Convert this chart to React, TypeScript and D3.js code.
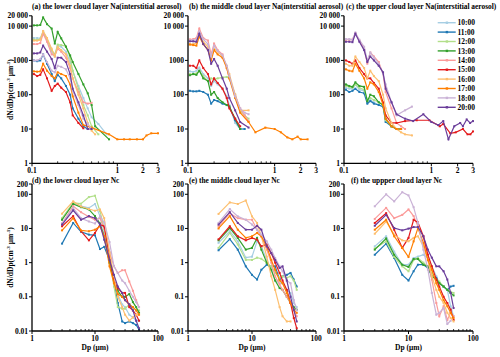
import * as d3 from 'd3';

// hours, one colour per hour (Paired)
const TIMES = ['10:00', '11:00', '12:00', '13:00', '14:00', '15:00', '16:00', '17:00', '18:00', '20:00'];
const COLORS = ['#a6cee3', '#1f78b4', '#b2df8a', '#33a02c', '#fb9a99', '#e31a1c', '#fdbf6f', '#ff7f00', '#cab2d6', '#6a3d9a'];

const NA_Y_TICKS = [1, 10, 100, 1000, 10000, 20000];
const NA_Y_LABELS = ['1', '10', '100', '1000', '10 000', '20 000'];
const NA_X_TICKS = [0.1, 1, 2, 3];
const NA_X_MINOR = [0.2, 0.3, 0.4, 0.5, 0.6, 0.7, 0.8, 0.9];
const NC_Y_TICKS = [0.01, 0.1, 1, 10, 100, 200];
const NC_Y_LABELS = ['0.01', '0.1', '1', '10', '100', '200'];
const NC_X_TICKS = [1, 10, 100];
const NC_X_MINOR = [2, 3, 4, 5, 6, 7, 8, 9, 20, 30, 40, 50, 60, 70, 80, 90];

const NA_TITLES = [
  '(a) the lower cloud layer  Na(interstitial aerosol)',
  '(b) the middle cloud layer  Na(interstitial aerosol)',
  '(c) the upper cloud layer  Na(interstitial aerosol)',
];
const NC_TITLES = [
  '(d) the lower cloud layer  Nc',
  '(e) the middle cloud layer  Nc',
  '(f) the uppper cloud layer  Nc',
];

// interstitial aerosol, [Dp (um), dN/dDp]
const naLower: [number, number][][] = [
  [[0.105, 4500], [0.115, 4500], [0.125, 4400], [0.135, 7000], [0.15, 4000], [0.17, 1800], [0.185, 1300], [0.2, 2700], [0.22, 2500], [0.25, 1800], [0.28, 900], [0.3, 500], [0.35, 180], [0.4, 80], [0.45, 40], [0.5, 22], [0.6, 14], [0.75, 7]],
  [[0.105, 1000], [0.115, 950], [0.125, 1000], [0.135, 1500], [0.15, 800], [0.17, 400], [0.185, 250], [0.2, 380], [0.22, 300], [0.25, 180], [0.28, 100], [0.3, 40], [0.35, 20], [0.4, 12], [0.45, 10]],
  [[0.105, 4000], [0.115, 4000], [0.125, 4100], [0.135, 6500], [0.15, 4200], [0.17, 2000], [0.185, 1500], [0.2, 2900], [0.22, 2800], [0.25, 2600], [0.28, 1200], [0.3, 500], [0.35, 150], [0.4, 50], [0.45, 25], [0.5, 12], [0.6, 7]],
  [[0.105, 10500], [0.115, 10500], [0.125, 10800], [0.135, 17900], [0.15, 11400], [0.17, 8500], [0.185, 3100], [0.2, 6800], [0.22, 4400], [0.25, 2500], [0.28, 1400], [0.3, 900], [0.35, 400], [0.4, 200], [0.45, 110], [0.5, 50], [0.55, 12], [0.8, 5]],
  [[0.105, 3000], [0.115, 3000], [0.125, 3200], [0.135, 6000], [0.15, 3500], [0.17, 1500], [0.185, 1400], [0.2, 2200], [0.22, 1800], [0.25, 1200], [0.28, 600], [0.3, 300], [0.35, 120], [0.4, 60], [0.45, 55], [0.5, 58]],
  [[0.105, 400], [0.115, 350], [0.125, 380], [0.135, 550], [0.15, 300], [0.17, 130], [0.185, 180], [0.2, 210], [0.22, 160], [0.25, 120], [0.28, 60], [0.3, 25], [0.35, 15], [0.4, 10.5]],
  [[0.105, 3800], [0.115, 3800], [0.125, 4000], [0.135, 7200], [0.15, 4500], [0.17, 2200], [0.185, 1300], [0.2, 2500], [0.22, 2000], [0.25, 1500], [0.28, 700], [0.3, 300], [0.35, 100], [0.4, 40], [0.45, 15], [0.5, 9], [0.55, 7]],
  [[0.105, 480], [0.115, 470], [0.125, 480], [0.135, 800], [0.15, 500], [0.17, 350], [0.185, 300], [0.2, 450], [0.22, 400], [0.25, 350], [0.28, 200], [0.3, 90], [0.35, 30], [0.4, 13], [0.5, 11], [0.8, 7], [1, 5], [1.2, 5], [1.4, 5], [1.7, 5], [2, 5], [2.2, 6.5], [2.5, 7.5], [3, 7.5]],
  [[0.105, 1000], [0.115, 1000], [0.125, 1100], [0.135, 1500], [0.15, 900], [0.17, 500], [0.185, 450], [0.2, 700], [0.22, 650], [0.25, 550], [0.28, 300], [0.3, 130], [0.35, 50], [0.4, 20], [0.45, 14], [0.5, 10]],
  [[0.105, 1600], [0.115, 1600], [0.125, 1700], [0.135, 2700], [0.15, 1800], [0.17, 1100], [0.185, 600], [0.2, 1200], [0.22, 1200], [0.25, 900], [0.28, 400], [0.3, 150], [0.35, 60], [0.4, 25], [0.45, 10], [0.5, 10]],
];

const naMiddle: [number, number][][] = [
  [[0.105, 480], [0.115, 460], [0.125, 500], [0.135, 620], [0.15, 400], [0.17, 300], [0.185, 180], [0.2, 250], [0.22, 200], [0.25, 150], [0.28, 90], [0.3, 50], [0.35, 15], [0.4, 10], [0.45, 10]],
  [[0.105, 130], [0.115, 125], [0.125, 125], [0.135, 130], [0.15, 120], [0.17, 100], [0.185, 55], [0.2, 70], [0.22, 65], [0.25, 55], [0.28, 50], [0.3, 45], [0.35, 18], [0.4, 10], [0.45, 10]],
  [[0.105, 400], [0.115, 400], [0.125, 420], [0.135, 500], [0.15, 350], [0.17, 250], [0.185, 300], [0.2, 280], [0.22, 300], [0.25, 320], [0.28, 330], [0.3, 300], [0.35, 100], [0.4, 35], [0.45, 25], [0.5, 20]],
  [[0.105, 370], [0.115, 400], [0.125, 380], [0.135, 500], [0.15, 300], [0.17, 250], [0.185, 100], [0.2, 120], [0.22, 80], [0.25, 60], [0.28, 50], [0.3, 45], [0.35, 20], [0.4, 10]],
  [[0.105, 4100], [0.115, 4200], [0.125, 4500], [0.135, 8500], [0.15, 4500], [0.17, 3800], [0.185, 1500], [0.2, 3100], [0.22, 2000], [0.25, 1500], [0.28, 600], [0.3, 300], [0.35, 100], [0.4, 40], [0.45, 25], [0.5, 17]],
  [[0.105, 700], [0.115, 700], [0.125, 600], [0.135, 1000], [0.15, 600], [0.17, 400], [0.185, 200], [0.2, 300], [0.22, 220], [0.25, 150], [0.28, 80], [0.3, 40], [0.35, 20], [0.4, 12]],
  [[0.105, 3000], [0.115, 3000], [0.125, 3200], [0.135, 5500], [0.15, 3500], [0.17, 2500], [0.185, 1200], [0.2, 2200], [0.22, 1800], [0.25, 1300], [0.28, 700], [0.3, 400], [0.35, 100], [0.4, 35], [0.5, 35]],
  [[0.105, 2900], [0.115, 2800], [0.125, 2700], [0.135, 5000], [0.15, 3000], [0.17, 2000], [0.185, 1000], [0.2, 2000], [0.22, 1500], [0.25, 1200], [0.28, 600], [0.3, 300], [0.35, 80], [0.4, 30], [0.5, 16], [0.6, 8], [0.78, 11], [1, 10], [1.18, 8], [1.4, 5.7], [1.6, 5], [1.84, 6], [2, 5], [2.4, 5]],
  [[0.105, 3800], [0.115, 3900], [0.125, 4000], [0.135, 7000], [0.15, 4200], [0.17, 3000], [0.185, 1300], [0.2, 2700], [0.22, 1900], [0.25, 1400], [0.28, 700], [0.3, 350], [0.35, 90], [0.4, 40], [0.45, 30], [0.5, 27]],
  [[0.105, 3600], [0.115, 3600], [0.125, 3500], [0.135, 6000], [0.15, 3000], [0.17, 2000], [0.185, 800], [0.2, 1100], [0.22, 700], [0.25, 300], [0.28, 150], [0.3, 80], [0.35, 35], [0.4, 16], [0.5, 11]],
];

const naUpper: [number, number][][] = [
  [[0.105, 160], [0.115, 150], [0.125, 150], [0.135, 200], [0.15, 140], [0.17, 130], [0.185, 60], [0.2, 70], [0.22, 60], [0.25, 50], [0.28, 45], [0.3, 17], [0.35, 12], [0.4, 10]],
  [[0.105, 140], [0.115, 120], [0.125, 130], [0.135, 150], [0.15, 120], [0.17, 110], [0.185, 55], [0.2, 65], [0.22, 55], [0.25, 50], [0.28, 45], [0.3, 16], [0.35, 12], [0.4, 10], [0.45, 10]],
  [[0.105, 180], [0.115, 170], [0.125, 160], [0.135, 200], [0.15, 160], [0.17, 140], [0.185, 70], [0.2, 80], [0.22, 70], [0.25, 60], [0.28, 50], [0.3, 18], [0.35, 12], [0.4, 10], [0.45, 10]],
  [[0.105, 200], [0.115, 180], [0.125, 170], [0.135, 230], [0.15, 180], [0.17, 170], [0.185, 65], [0.2, 100], [0.22, 90], [0.25, 60], [0.28, 50], [0.3, 20], [0.35, 12], [0.4, 10], [0.45, 10]],
  [[0.105, 4000], [0.115, 4000], [0.125, 4100], [0.135, 6200], [0.15, 3800], [0.17, 2200], [0.185, 800], [0.2, 1700], [0.22, 1300], [0.25, 900], [0.28, 400], [0.3, 120], [0.35, 40], [0.4, 15], [0.45, 12], [0.5, 10]],
  [[0.105, 1000], [0.115, 900], [0.125, 800], [0.135, 1000], [0.15, 600], [0.17, 400], [0.185, 300], [0.2, 300], [0.22, 220], [0.25, 150], [0.28, 60], [0.3, 25], [0.35, 15], [0.4, 15], [0.5, 17], [0.68, 18], [0.95, 18], [1.25, 12], [1.37, 14], [1.65, 7.5], [1.9, 8], [2.3, 10], [2.6, 7], [2.8, 7], [3, 8.5]],
  [[0.105, 800], [0.115, 700], [0.125, 700], [0.135, 1300], [0.15, 900], [0.17, 600], [0.185, 300], [0.2, 500], [0.22, 350], [0.25, 250], [0.28, 100], [0.3, 40], [0.35, 15], [0.4, 10], [0.45, 8], [0.5, 7], [0.6, 6.5]],
  [[0.105, 550], [0.115, 500], [0.125, 480], [0.135, 800], [0.15, 500], [0.17, 300], [0.185, 150], [0.2, 230], [0.22, 200], [0.25, 120], [0.28, 50], [0.3, 20], [0.35, 12], [0.4, 10], [0.45, 10]],
  [[0.105, 4200], [0.115, 4200], [0.125, 4000], [0.135, 6500], [0.15, 4000], [0.17, 2500], [0.185, 1000], [0.2, 1700], [0.22, 1200], [0.25, 800], [0.28, 400], [0.3, 200], [0.35, 60], [0.4, 25], [0.5, 35], [0.6, 45]],
  [[0.105, 3500], [0.115, 3500], [0.125, 3400], [0.135, 6000], [0.15, 3500], [0.17, 2000], [0.185, 900], [0.2, 1300], [0.22, 1000], [0.25, 700], [0.28, 450], [0.3, 150], [0.35, 60], [0.4, 27], [0.5, 20], [0.62, 17], [0.81, 27], [1, 16], [1.2, 13], [1.37, 17], [1.57, 5], [1.83, 12], [2.14, 15], [2.3, 12], [2.54, 19], [2.78, 15], [3, 17]],
];

// cloud droplets on the probe's size bins
const NC_BINS = [3, 4.5, 6, 8, 10, 12, 14, 17, 20, 23, 27, 30, 35, 40, 45, 50];

const ncLower: (number | null)[][] = [
  [18, 58, 45, 40, 52, 23, 8, 2, 0.3, 0.12, 0.06, 0.05, 0.03, 0.025, 0.02, 0.02],
  [3.6, 14.5, 8, 6.6, 6.3, 2.5, 2.9, 1.2, 0.32, 0.066, 0.019, 0.017, 0.019, 0.017, 0.015, 0.011],
  [20, 56, 53, 83, 91, 32, 10, 1.5, 0.2, 0.05, 0.045, 0.045, 0.06, 0.05, 0.04, 0.04],
  [18, 52, 42, 36, 23, 14, 6, 1, 0.3, 0.15, 0.1, 0.1, 0.12, 0.07, 0.05, 0.034],
  [14, 45, 30, 22, 18, 20, 10, 2, 0.8, 0.5, 0.6, 0.6, 0.28, 0.15, 0.08, 0.05],
  [11.6, 23, 8.3, 4.5, 7.4, 13, 11.6, 1.5, 0.3, 0.18, 0.13, 0.13, 0.05, 0.04, 0.03, 0.02],
  [27, 62, 44, 37, 33, 36, 20, 2, 0.4, 0.1, 0.05, 0.03, 0.02, 0.025, 0.03, 0.03],
  [8.8, 20, 8.8, 8.3, 9.2, 11.6, 6, 0.78, 0.25, 0.12, 0.1, 0.08, 0.06, 0.05, 0.04, 0.03],
  [14, 40, 20, 16, 14, 23, 15, 4, 0.78, 0.5, 0.3, 0.25, 0.15, 0.1, 0.07, 0.05],
  [13, 34, 18, 23, 20, 13, 4.7, 1.2, 0.44, 0.2, 0.13, 0.08, 0.06, 0.04, 0.02, 0.012],
];

const ncMiddle: (number | null)[][] = [
  [3.8, 8.3, 4.2, 1.4, 1.5, 4.2, 3, 1.2, 0.62, 0.3, 0.25, 0.25, 0.16, 0.13, 0.066, 0.05],
  [2.3, 4.9, 2.4, 0.78, 0.44, 0.32, 0.62, 0.87, 0.78, 0.78, 0.32, 0.4, 0.44, 0.5, 0.32, 0.2],
  [2.7, 7.4, 3.4, 1.2, 1.2, 1.4, 1.3, 1, 0.78, 0.5, 0.36, 0.4, 0.36, 0.4, 0.3, 0.16],
  [4.5, 10.3, 5.3, 2.4, 2.7, 5.3, 2.4, 1, 0.62, 0.3, 0.18, 0.16, 0.1, 0.066, 0.05, 0.042],
  [11.6, 28, 20, 18, 18, 9.2, 5.9, 2.4, 1, 0.4, 0.23, 0.16, 0.1, 0.066, 0.04, 0.027],
  [4.8, 11.6, 5.9, 4.5, 5.3, 4.7, 3, 3.4, 1.9, 1, 0.5, 0.3, 0.16, 0.066, 0.024, 0.012],
  [26.6, 58, 52, 66, 22.6, 14.5, 5.9, 1.5, 0.4, 0.16, 0.05, 0.027, 0.019, 0.019, null, null],
  [10, 23, 9.2, 5.3, 5.9, 7.4, 5.9, 3, 1.2, 0.62, 0.3, 0.25, 0.13, 0.066, 0.042, 0.034],
  [14.5, 37, 22.6, 18, 13, 9.2, 6.6, 4.2, 2.4, 1.37, 0.78, 0.56, 0.3, 0.25, 0.08, 0.04],
  [13, 30, 14.5, 9.2, 9.2, 12, 9.2, 3, 1.9, 1.2, 0.7, 0.78, 0.3, 0.1, 0.042, 0.019],
];

const ncUpper: (number | null)[][] = [
  [3, 5.9, 2.1, 0.87, 0.87, 1.37, 1.5, 1.7, 1.37, 0.78, 0.4, 0.25, 0.2, 0.16, 0.053, 0.027],
  [1.7, 3.6, 1.37, 0.44, 0.3, 0.56, 0.87, 0.87, 0.7, 0.4, 0.36, 0.25, 0.2, 0.16, 0.2, 0.21],
  [2.6, 4.2, 1.46, 0.78, 0.56, 1.2, 1.37, 1, 0.78, 0.5, 0.32, 0.28, 0.2, 0.16, 0.14, 0.13],
  [2.4, 5.1, 1.7, 0.87, 0.75, 1.28, 1.28, 0.87, 0.78, 0.4, 0.32, 0.25, 0.2, 0.16, 0.13, 0.11],
  [19, 40, 20, 25, 36, 23, 11.6, 5.9, 1.2, 0.32, 0.066, 0.027, 0.053, 0.021, 0.034, 0.027],
  [14.5, 28, 9.2, 2.7, 5.3, 18, 15, 5.9, 1.7, 0.78, 0.32, 0.2, 0.1, 0.066, 0.042, 0.021],
  [7, 16, 6.6, 4.5, 4.2, 5.3, 5.9, 3, 1.2, 0.4, 0.16, 0.1, 0.066, 0.034, 0.024, 0.019],
  [9.2, 18, 5.9, 2.7, 1.46, 4.2, 10.3, 3.8, 1.2, 0.62, 0.25, 0.16, 0.08, 0.053, 0.034, 0.024],
  [44.5, 100, 62, 115, 93, 42, 14.5, 2.4, 0.62, 0.13, 0.03, 0.034, 0.047, 0.016, 0.02, null],
  [12, 25, 10.3, 8.8, 9.9, 11, 11, 5.9, 2.4, 1.4, 0.78, 0.78, 0.56, 0.32, 0.13, 0.047],
];

const W = 500;
const H = 357;
const FONT = '"Liberation Serif", "Times New Roman", serif';
const COLS = [[32, 158], [188, 316], [344, 473]];
const TOP_Y = [163.3, 15.8];
const BOT_Y = [331, 184];

type PanelProps = {
  title: string;
  titleX: number;
  titleY: number;
  col: number[];
  yr: number[];
  xDomain: [number, number];
  yDomain: [number, number];
  xTicks: number[];
  xMinor: number[];
  yTicks: number[];
  yLabels: string[];
  series: [number, number][][];
  yTitle?: boolean;
  xTitle?: boolean;
  legend?: boolean;
};

function Panel(p: PanelProps) {
  const x = d3.scaleLog().domain(p.xDomain).range(p.col);
  const y = d3.scaleLog().domain(p.yDomain).range(p.yr);
  const line = d3.line<[number, number]>().x(d => x(d[0])).y(d => y(d[1]));
  const x0 = p.col[0];
  const y0 = p.yr[0];
  const midY = (p.yr[0] + p.yr[1]) / 2;

  return (
    <g fontFamily={FONT} fontWeight="bold">
      <text x={p.titleX} y={p.titleY} fontSize={7.4}>{p.title}</text>

      {p.series.map((s, i) => (
        <g key={i}>
          <path d={line(s) ?? ''} fill="none" stroke={COLORS[i]} strokeWidth={1.2} />
          {s.map((d, j) => (
            <rect key={j} x={x(d[0]) - 1} y={y(d[1]) - 1} width={2} height={2} fill={COLORS[i]} />
          ))}
        </g>
      ))}

      {/* axes */}
      <line x1={x0} x2={p.col[1]} y1={y0} y2={y0} stroke="#000" strokeWidth={1.3} />
      <line x1={x0} x2={x0} y1={y0} y2={p.yr[1]} stroke="#000" strokeWidth={1.3} />
      {p.xTicks.map(t => (
        <g key={t}>
          <line x1={x(t)} x2={x(t)} y1={y0} y2={y0 + 3} stroke="#000" strokeWidth={1} />
          <text x={x(t)} y={y0 + 9.5} fontSize={7.5} textAnchor="middle">{t}</text>
        </g>
      ))}
      {p.xMinor.map(t => (
        <line key={t} x1={x(t)} x2={x(t)} y1={y0} y2={y0 - 2} stroke="#000" strokeWidth={0.8} />
      ))}
      {p.yTicks.map((t, i) => (
        <g key={t}>
          <line x1={x0 - 3} x2={x0} y1={y(t)} y2={y(t)} stroke="#000" strokeWidth={1} />
          <text x={x0 - 4} y={y(t)} dy="0.35em" fontSize={7.5} textAnchor="end">{p.yLabels[i]}</text>
        </g>
      ))}

      {p.yTitle && (
        <text transform={`translate(13,${midY}) rotate(-90)`} fontSize={7.5} textAnchor="middle">
          dN/dDp(cm<tspan fontSize={5} dy={-3}>-3</tspan>
          <tspan dy={3}> μm</tspan>
          <tspan fontSize={5} dy={-3}>-1</tspan>
          <tspan dy={3}>)</tspan>
        </text>
      )}
      {p.xTitle && (
        <text x={(p.col[0] + p.col[1]) / 2} y={350} fontSize={7.5} textAnchor="middle">Dp (μm)</text>
      )}

      {p.legend && TIMES.map((t, i) => {
        const ly = 22.7 + i * 9.4;
        return (
          <g key={t}>
            <line x1={437.7} x2={455.7} y1={ly} y2={ly} stroke={COLORS[i]} strokeWidth={1.4} />
            <rect x={445.7} y={ly - 1.2} width={2.4} height={2.4} fill={COLORS[i]} />
            <text x={457.5} y={ly} dy="0.35em" fontSize={7.5}>{t}</text>
          </g>
        );
      })}
    </g>
  );
}

const toPairs = (rows: (number | null)[][]): [number, number][][] =>
  rows.map(r => NC_BINS.map((b, i) => [b, r[i]] as [number, number | null])
    .filter(d => d[1] != null) as [number, number][]);

const NA_TITLE_X = [32, 189, 346];
const NC_TITLE_X = [32, 189, 351];

export default function App() {
  const naSets = [naLower, naMiddle, naUpper];
  const ncSets = [ncLower, ncMiddle, ncUpper].map(toPairs);
  return (
    <svg width={W} height={H} style={{ position: 'absolute', left: 0, top: 0, background: '#fff' }}>
      {naSets.map((s, i) => (
        <Panel key={'na' + i} title={NA_TITLES[i]} titleX={NA_TITLE_X[i]} titleY={8.8}
          col={COLS[i]} yr={TOP_Y}
          xDomain={[0.1, 3]} yDomain={[1, 20000]} xTicks={NA_X_TICKS} xMinor={NA_X_MINOR}
          yTicks={NA_Y_TICKS} yLabels={NA_Y_LABELS} series={s}
          yTitle={i === 0} legend={i === 2} />
      ))}
      {ncSets.map((s, i) => (
        <Panel key={'nc' + i} title={NC_TITLES[i]} titleX={NC_TITLE_X[i]} titleY={182.5}
          col={COLS[i]} yr={BOT_Y}
          xDomain={[1, 100]} yDomain={[0.01, 200]} xTicks={NC_X_TICKS} xMinor={NC_X_MINOR}
          yTicks={NC_Y_TICKS} yLabels={NC_Y_LABELS} series={s}
          yTitle={i === 0} xTitle />
      ))}
    </svg>
  );
}
